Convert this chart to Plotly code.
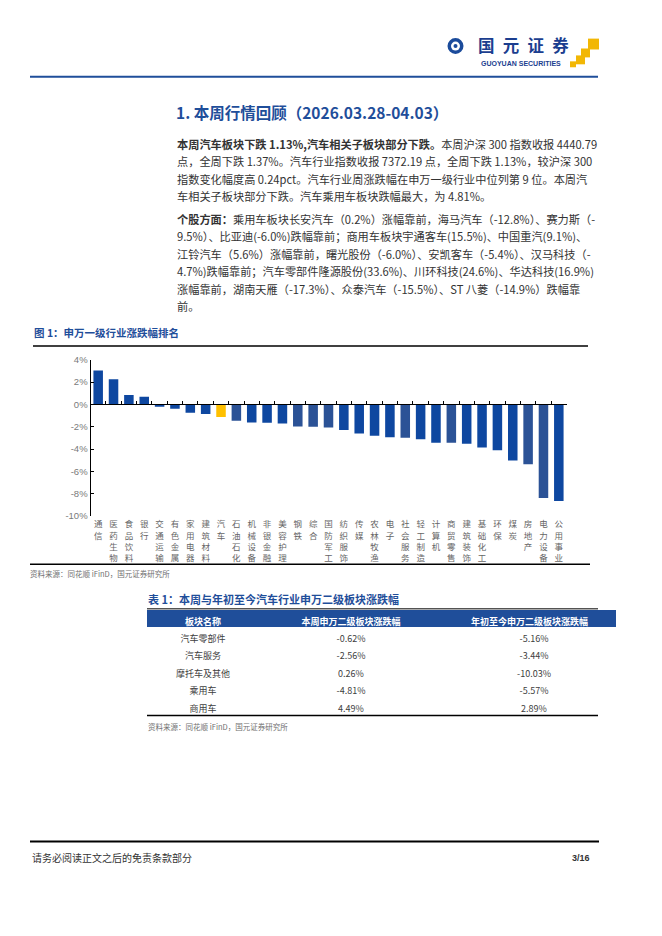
import plotly.graph_objects as go

# 申万一级行业本周涨跌幅（%）
industries = ["通信", "医药生物", "食品饮料", "银行", "交通运输", "有色金属", "家用电器",
              "建筑材料", "汽车", "石油石化", "机械设备", "非银金融", "美容护理", "钢铁",
              "综合", "国防军工", "纺织服饰", "传媒", "农林牧渔", "电子", "社会服务",
              "轻工制造", "计算机", "商贸零售", "建筑装饰", "基础化工", "环保", "煤炭",
              "房地产", "电力设备", "公用事业"]
weekly_chg = [3.05, 2.25, 0.85, 0.68, -0.20, -0.40, -0.75, -0.87, -1.13, -1.46, -1.63,
              -1.64, -1.72, -1.99, -2.00, -2.07, -2.29, -2.60, -2.80, -2.95, -2.99,
              -3.13, -3.43, -3.44, -3.52, -3.87, -4.10, -5.02, -5.36, -8.40, -8.67]
y_ticks = [4, 2, 0, -2, -4, -6, -8, -10]

# 汽车行业申万二级板块涨跌幅（%）
table_head = ["板块名称", "本周申万二级板块涨跌幅", "年初至今申万二级板块涨跌幅"]
sub_sectors = ["汽车零部件", "汽车服务", "摩托车及其他", "乘用车", "商用车"]
sub_week = [-0.62, -2.56, 0.26, -4.81, 4.49]
sub_ytd = [-5.16, -3.44, -10.03, -5.57, 2.89]

section_title = "1. 本周行情回顾（2026.03.28-04.03）"
para1 = [
    "<b>本周汽车板块下跌 1.13%,汽车相关子板块部分下跌。</b>本周沪深 300 指数收报 4440.79",
    "点，全周下跌 1.37%。汽车行业指数收报 7372.19 点，全周下跌 1.13%，较沪深 300",
    "指数变化幅度高 0.24pct。汽车行业周涨跌幅在申万一级行业中位列第 9 位。本周汽",
    "车相关子板块部分下跌。汽车乘用车板块跌幅最大，为 4.81%。",
]
para2 = [
    "<b>个股方面：</b>乘用车板块长安汽车（0.2%）涨幅靠前，海马汽车（-12.8%）、赛力斯（-",
    "9.5%）、比亚迪(-6.0%)跌幅靠前；商用车板块宇通客车(15.5%)、中国重汽(9.1%)、",
    "江铃汽车（5.6%）涨幅靠前，曙光股份（-6.0%）、安凯客车（-5.4%）、汉马科技（-",
    "4.7%)跌幅靠前；汽车零部件隆源股份(33.6%)、川环科技(24.6%)、华达科技(16.9%)",
    "涨幅靠前，湖南天雁（-17.3%）、众泰汽车（-15.5%）、ST 八菱（-14.9%）跌幅靠",
    "前。",
]
fig1_title = "图 1：申万一级行业涨跌幅排名"
tab1_title = "表 1：本周与年初至今汽车行业申万二级板块涨跌幅"
source_txt = "资料来源：同花顺 iFinD，国元证券研究所"
footer_txt = "请务必阅读正文之后的免责条款部分"
page_no = "3/16"

# 页面坐标（像素 -> paper）
W, H = 662, 936
def px(x):
    return x / W
def py(y):
    return 1 - y / H

CJK = "Noto Sans CJK SC"
BLUE = "#1F4E9A"
BAR = "#0E47A0"
BAR2 = "#2B5296"
muted = {"石油石化", "钢铁", "综合", "国防军工", "社会服务", "商贸零售", "房地产", "电力设备"}
colors = ["#FFC000" if n == "汽车" else (BAR2 if n in muted else BAR) for n in industries]

fig = go.Figure()
fig.add_trace(go.Bar(x=industries, y=weekly_chg, marker=dict(color=colors, line=dict(width=0)),
                     hoverinfo="x+y"))

# 第三列数值在原表中略偏右
pad = "\u2002\u2002"
fig.add_trace(go.Table(
    domain=dict(x=[px(147), px(616)], y=[py(722), py(611)]),
    columnwidth=[112, 184, 173],
    header=dict(values=table_head,
                fill_color=BLUE, line=dict(color=BLUE, width=0), height=17,
                font=dict(family=CJK, size=9, color="white", weight="bold"), align="center"),
    cells=dict(values=[sub_sectors,
                       ["%.2f%%" % v for v in sub_week],
                       [pad + "%.2f%%" % v for v in sub_ytd]],
               fill_color="white", line=dict(color="white", width=0), height=17.5,
               font=dict(family=CJK, size=9, color="#404040"), align="center"),
))

shapes = []
def hline(y, x0, x1, color="black", width=1.5):
    shapes.append(dict(type="line", xref="paper", yref="paper", x0=px(x0), x1=px(x1),
                       y0=py(y), y1=py(y), line=dict(color=color, width=width)))

hline(71.5, 30, 598, BLUE, 2)
hline(344, 33, 588)
hline(565, 30, 590)
hline(610, 147, 598, "black", 1)
hline(718, 147, 598)
hline(845.5, 30, 599, "black", 2)

# 标志
shapes.append(dict(type="circle", xref="paper", yref="paper", x0=px(447.5), x1=px(463.5),
                   y0=py(48.5), y1=py(32.5), fillcolor="#1B4B9B", line=dict(width=0)))
shapes.append(dict(type="circle", xref="paper", yref="paper", x0=px(451), x1=px(460),
                   y0=py(45), y1=py(36), fillcolor="white", line=dict(width=0)))
shapes.append(dict(type="circle", xref="paper", yref="paper", x0=px(453.5), x1=px(457.5),
                   y0=py(42.5), y1=py(38.5), fillcolor="#1B4B9B", line=dict(width=0)))
for (a, b, c, d) in [(588, 33, 599, 44), (581, 43, 590, 52), (576, 50, 585, 59), (570, 56, 576, 62)]:
    shapes.append(dict(type="rect", xref="paper", yref="paper", x0=px(a), x1=px(c),
                       y0=py(d), y1=py(b), fillcolor="#F2B705", line=dict(width=0)))

ann = []
def text(x, y, s, size, color="#333333", family=CJK, anchor="left"):
    ann.append(dict(x=px(x), y=py(y), xref="paper", yref="paper", text=s, showarrow=False,
                    xanchor=anchor, yanchor="middle",
                    font=dict(family=family, size=size, color=color)))

text(476, 39.5, "<b>国\u2002元\u2002证\u2002券</b>", 16.5, "#1B3E8F")
text(479, 58.5, "<b>GUOYUAN SECURITIES</b>", 7, "#1B3E8F", "Liberation Sans")

text(174, 107, "<b>%s</b>" % section_title, 15.5, BLUE)
for i, line in enumerate(para1):
    text(175, 139.5 + 17.6 * i, line, 11.2, "#333333")
for i, line in enumerate(para2):
    text(175, 215.5 + 17.6 * i, line, 11.2, "#333333")

text(32, 330, "<b>%s</b>" % fig1_title, 10.5, BLUE)
text(28, 574, source_txt, 7.5, "#707070")
text(146, 600, "<b>%s</b>" % tab1_title, 11, BLUE)
text(146, 729, source_txt, 7.5, "#707070")
text(30, 862, footer_txt, 10, "#333333")
text(592, 862, "<b>%s</b>" % page_no, 9, "#333333", "Liberation Sans", "right")

fig.update_layout(
    width=W, height=H, margin=dict(l=0, r=0, t=0, b=0),
    paper_bgcolor="white", plot_bgcolor="white",
    showlegend=False, bargap=0.38,
    shapes=shapes, annotations=ann,
    xaxis=dict(domain=[px(90.5), px(566.5)], anchor="free", position=py(403),
               type="category", showline=True, linecolor="black", linewidth=1,
               ticks="inside", ticklen=3, tickcolor="black", tickson="boundaries",
               tickvals=industries, ticktext=["<br>".join(n) for n in industries],
               tickangle=0, ticklabelstandoff=112,
               tickfont=dict(family=CJK, size=8.5, color="#666666"), showgrid=False),
    yaxis=dict(domain=[py(516), py(358)], range=[-10, 4], anchor="x",
               tickvals=y_ticks, ticktext=["%d%%" % v for v in y_ticks],
               showline=True, linecolor="black", linewidth=1,
               ticks="inside", ticklen=3, tickcolor="black",
               tickfont=dict(family="Liberation Sans", size=9.5, color="#7a7a7a"),
               showgrid=False, zeroline=False),
)

fig.write_html("out.html", config={"displayModeBar": False},
               post_script="document.body.style.margin='0';document.body.style.overflow='hidden';")
